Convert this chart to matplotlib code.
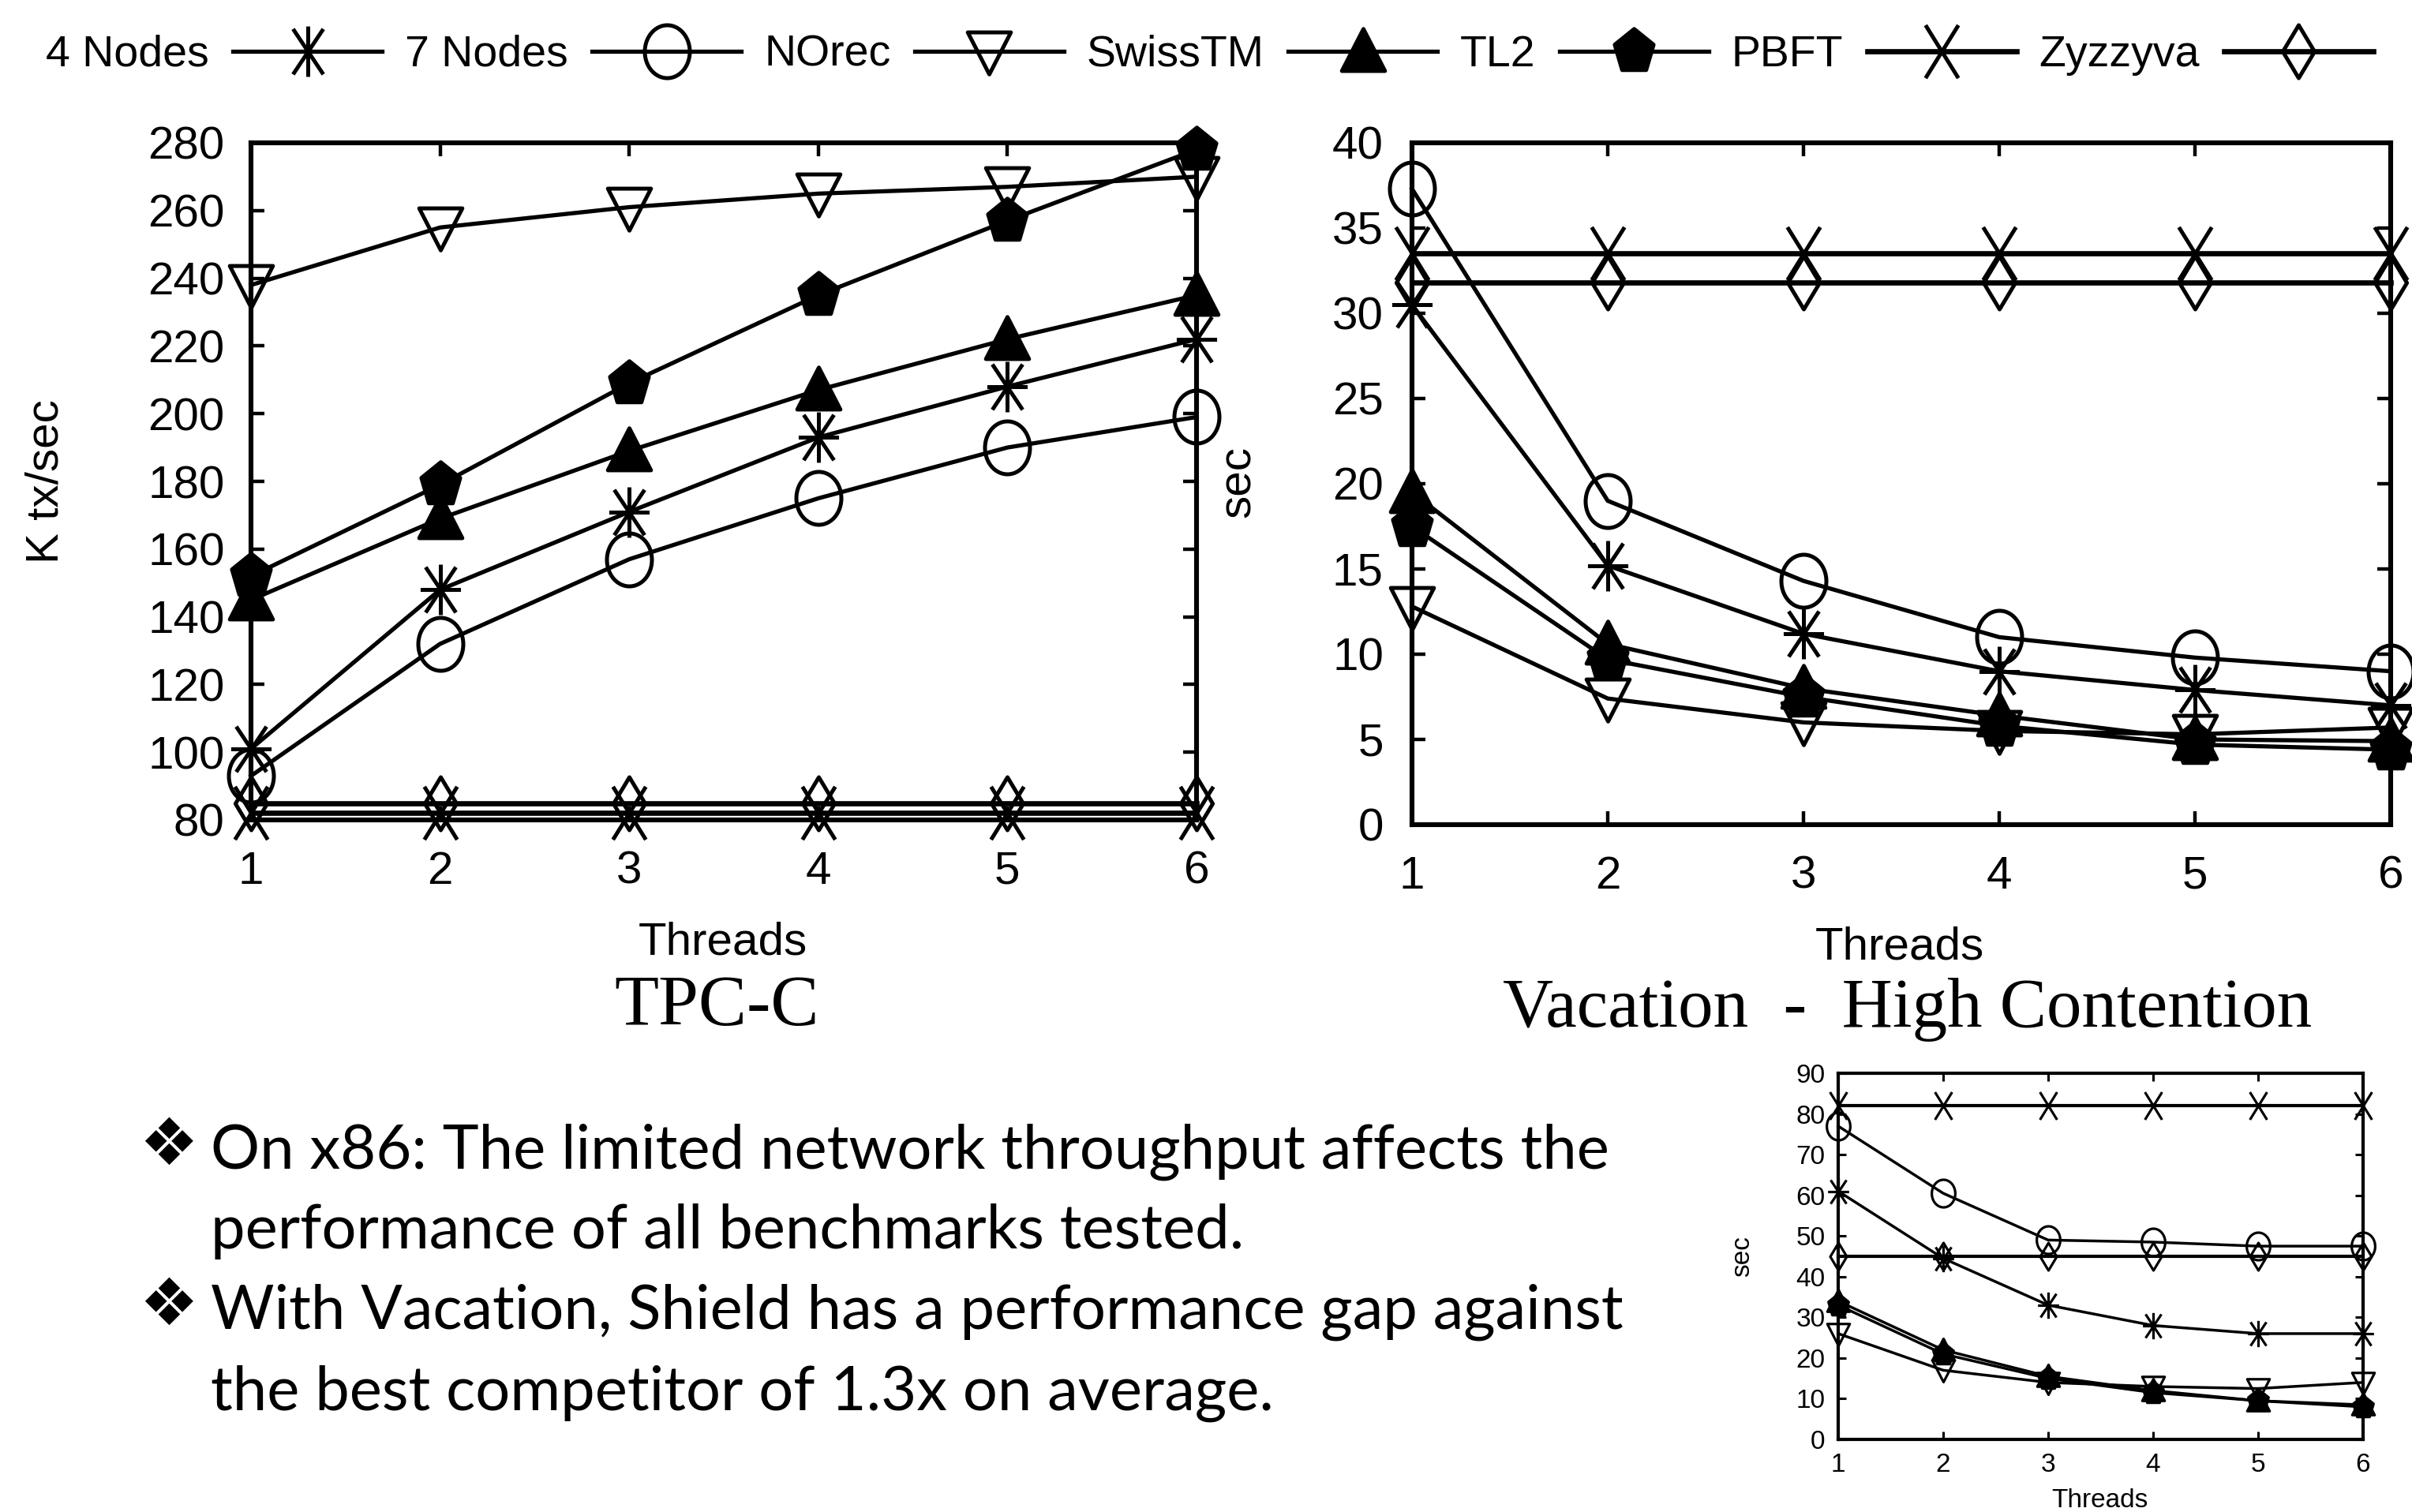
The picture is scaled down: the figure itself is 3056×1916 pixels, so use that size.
import numpy as np
import matplotlib
matplotlib.use("Agg")
import matplotlib.pyplot as plt
from matplotlib.path import Path

# ---------------- data ----------------
threads = [1, 2, 3, 4, 5, 6]
series_labels = ["4 Nodes", "7 Nodes", "NOrec", "SwissTM", "TL2", "PBFT", "Zyzzyva"]

# TPC-C (K tx/sec)
tpcc_4nodes = [101, 148, 171, 193, 208, 222]
tpcc_7nodes = [93, 132, 157, 175, 190, 199]
tpcc_norec = [238, 255, 261, 265, 267, 270]
tpcc_swisstm = [145, 169, 189, 207, 222, 235]
tpcc_tl2 = [152, 179, 209, 235, 257, 278]
tpcc_pbft = [82, 82, 82, 82, 82, 82]
tpcc_zyzzyva = [85, 85, 85, 85, 85, 85]

# Vacation - High Contention (sec)
vac_4nodes = [30.5, 15.2, 11.2, 9.0, 7.9, 7.0]
vac_7nodes = [37.3, 19.0, 14.3, 11.0, 9.8, 9.0]
vac_norec = [12.8, 7.4, 6.0, 5.5, 5.3, 5.7]
vac_swisstm = [19.5, 10.6, 8.0, 6.4, 5.0, 4.9]
vac_tl2 = [17.5, 9.7, 7.5, 5.8, 4.7, 4.4]
vac_pbft = [33.5, 33.5, 33.5, 33.5, 33.5, 33.5]
vac_zyzzyva = [31.8, 31.8, 31.8, 31.8, 31.8, 31.8]

# small inset chart (sec)
small_4nodes = [61, 44.5, 33, 28, 26, 26]
small_7nodes = [77, 60.5, 49, 48.5, 47.5, 47.5]
small_norec = [26, 17, 14, 13, 12.5, 14]
small_swisstm = [34, 22, 15.5, 12, 9.5, 8.5]
small_tl2 = [33, 21, 15, 11.5, 9.5, 8]
small_pbft = [82, 82, 82, 82, 82, 82]
small_zyzzyva = [45, 45, 45, 45, 45, 45]

tpcc_yticks = [80, 100, 120, 140, 160, 180, 200, 220, 240, 260, 280]
vac_yticks = [0, 5, 10, 15, 20, 25, 30, 35, 40]
small_yticks = [0, 10, 20, 30, 40, 50, 60, 70, 80, 90]

bullet_lines = [
    "On x86: The limited network throughput affects the",
    "performance of all benchmarks tested.",
    "With Vacation, Shield has a performance gap against",
    "the best competitor of 1.3x on average.",
]

# ---------------- style ----------------
plt.rcParams["font.family"] = ["Liberation Sans", "DejaVu Sans"]

W, H = 3056, 1916
fig = plt.figure(figsize=(W / 100, H / 100), dpi=100)


def seg_marker(segs):
    verts, codes = [], []
    for a, b in segs:
        verts += [a, b]
        codes += [Path.MOVETO, Path.LINETO]
    return Path(verts, codes)


star_m = seg_marker([((0, -1), (0, 1)), ((-0.8, 0), (0.8, 0)),
                     ((-0.6, -0.9), (0.6, 0.9)), ((-0.6, 0.9), (0.6, -0.9))])
x_m = seg_marker([((-0.62, -1), (0.62, 1)), ((-0.62, 1), (0.62, -1))])
_t = np.linspace(0, 2 * np.pi, 64)
ellipse_m = Path(np.column_stack([0.85 * np.sin(_t), np.cos(_t)]), closed=True)
diamond_m = Path([(0, 1), (0.6, 0), (0, -1), (-0.6, 0), (0, 1)], closed=True)
down_m = Path([(-0.95, 0.85), (0.95, 0.85), (0, -1), (-0.95, 0.85)], closed=True)
up_m = Path([(-0.95, -0.85), (0.95, -0.85), (0, 1), (-0.95, -0.85)], closed=True)
_a = np.pi / 2 + np.arange(6) * 2 * np.pi / 5
pent_m = Path(np.column_stack([0.9 * np.cos(_a), np.sin(_a)]), closed=True)

markers = [star_m, ellipse_m, down_m, up_m, pent_m, x_m, diamond_m]
filled = [False, False, False, True, True, False, False]
rel_size = [1.0, 1.05, 0.9, 0.9, 0.9, 1.05, 1.05]


def fig_rect(left, top, right, bottom):
    return [left / W, 1 - bottom / H, (right - left) / W, (bottom - top) / H]


def draw(ax, data, ylim, yticks, ms, lw, mew, fs, padx, pady, ticklen, tickw, spinew, flat_lw):
    lines = []
    for i, ys in enumerate(data):
        l, = ax.plot(threads, ys, color="k", lw=(flat_lw if i >= 5 else lw),
                     marker=markers[i], ms=ms * rel_size[i], mew=mew,
                     mfc=("k" if filled[i] else "none"), mec="k", clip_on=False,
                     solid_joinstyle="miter", label=series_labels[i])
        lines.append(l)
    ax.set_xlim(1, 6)
    ax.set_ylim(*ylim)
    ax.set_xticks(threads)
    ax.set_yticks(yticks)
    ax.tick_params(direction="in", length=ticklen, width=tickw, top=True, right=True,
                   labelsize=fs)
    ax.tick_params(axis="x", pad=padx)
    ax.tick_params(axis="y", pad=pady)
    for s in ax.spines.values():
        s.set_linewidth(spinew)
        s.set_zorder(5)
    return lines


# left chart: TPC-C
ax1 = fig.add_axes(fig_rect(318, 181, 1516, 1039))
lines = draw(ax1, [tpcc_4nodes, tpcc_7nodes, tpcc_norec, tpcc_swisstm, tpcc_tl2, tpcc_pbft, tpcc_zyzzyva],
             (80, 280), tpcc_yticks, ms=46, lw=3.8, mew=3.6, fs=42, padx=28, pady=24,
             ticklen=12, tickw=3.2, spinew=4.4, flat_lw=4.8)

# right chart: Vacation
ax2 = fig.add_axes(fig_rect(1789, 181, 3029, 1045))
draw(ax2, [vac_4nodes, vac_7nodes, vac_norec, vac_swisstm, vac_tl2, vac_pbft, vac_zyzzyva],
     (0, 40), vac_yticks, ms=46, lw=3.8, mew=3.6, fs=42, padx=28, pady=26,
     ticklen=12, tickw=3.2, spinew=4.4, flat_lw=4.8)

# small inset chart
ax3 = fig.add_axes(fig_rect(2329, 1360, 2994, 1824))
draw(ax3, [small_4nodes, small_7nodes, small_norec, small_swisstm, small_tl2, small_pbft, small_zyzzyva],
     (0, 90), small_yticks, ms=24, lw=2.5, mew=2.3, fs=24, padx=12, pady=12,
     ticklen=7, tickw=2.2, spinew=3.0, flat_lw=3.0)

# axis labels and titles
fig.text(58 / W, 1 - 610 / H, "K tx/sec", rotation=90, ha="center", va="center", fontsize=42)
fig.text(1569 / W, 1 - 610 / H, "sec", rotation=90, ha="center", va="center", fontsize=42)
fig.text(916 / W, 1 - 1195 / H, "Threads", ha="center", va="center", fontsize=42)
fig.text(2407 / W, 1 - 1200 / H, "Threads", ha="center", va="center", fontsize=42)
fig.text(908 / W, 1 - 1277 / H, "TPC-C", ha="center", va="center", fontsize=66,
         family="Liberation Serif")
fig.text(2417 / W, 1 - 1280 / H, "Vacation  -  High Contention", ha="center", va="center",
         fontsize=64, family="Liberation Serif")
fig.text(2208 / W, 1 - 1592 / H, "sec", rotation=90, ha="center", va="center", fontsize=24)
fig.text(2660 / W, 1 - 1886 / H, "Threads", ha="center", va="top", fontsize=24)

# legend
fig.legend(handles=lines, labels=series_labels, ncol=7, markerfirst=False, frameon=False,
           loc="center left", bbox_to_anchor=(58 / W, 1 - 70 / H), fontsize=40,
           handlelength=3.4, handletextpad=0.55, columnspacing=0.52, borderpad=0,
           borderaxespad=0)

# bullet text
baselines = [1481, 1582, 1684, 1787]
for y, txt in zip(baselines, bullet_lines):
    fig.text(267 / W, 1 - y / H, txt, ha="left", va="baseline", fontsize=56, family="Lato")
for y in [1452, 1655]:
    fig.text(176 / W, 1 - y / H, "\u2756", ha="left", va="center", fontsize=60,
             family=["DejaVu Sans"])

fig.savefig("out.png", dpi=100)
